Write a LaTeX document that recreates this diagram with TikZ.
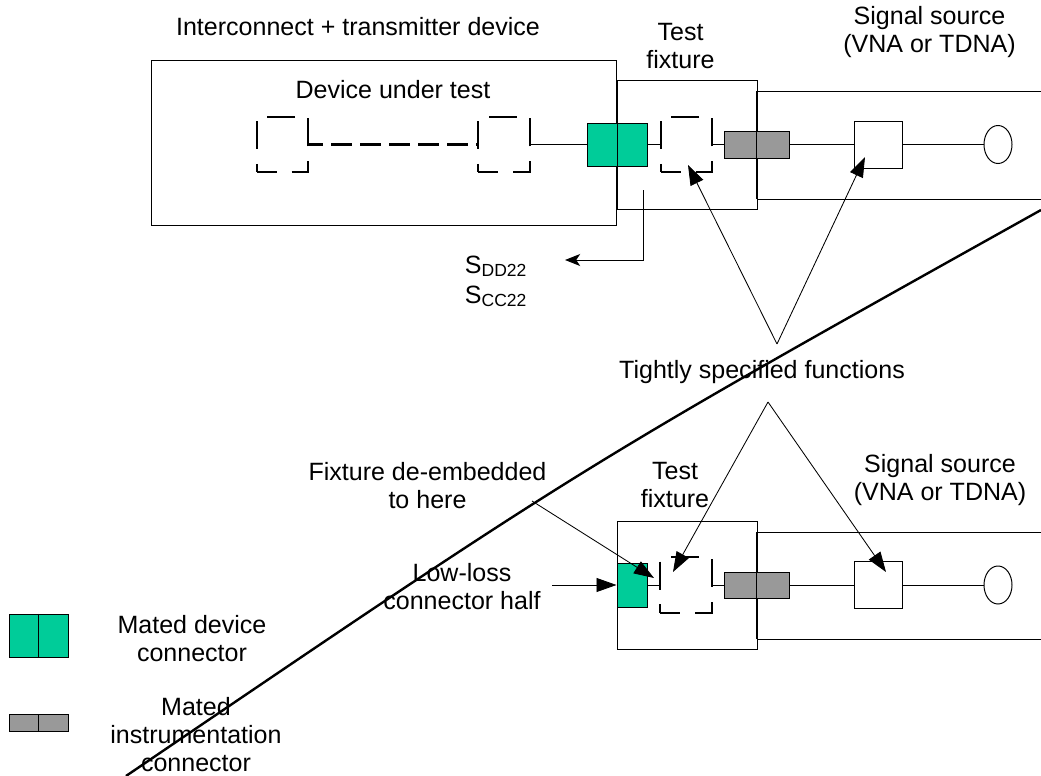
\documentclass[tikz,border=0pt]{standalone}
\usepackage{fontspec}
\setmainfont{Liberation Sans}
\usetikzlibrary{arrows.meta, shapes.geometric}
\definecolor{matedgreen}{RGB}{0, 204, 153}
\definecolor{instrgray}{RGB}{153, 153, 153}

\begin{document}
\begin{tikzpicture}[
    x=0.025cm, y=-0.025cm,
    font=\fontsize{17.8}{19.9}\selectfont,
    frame/.style={draw, line width=0.7pt, inner sep=0pt},
    dashbox/.style={draw, line width=1.6pt, inner sep=0pt,
        minimum width=1.29cm, minimum height=1.39cm,
        dash pattern=on 0.7cm off 0.37cm, dash phase=0.2cm},
    dashlink/.style={line width=1.6pt, dash pattern=on 0.525cm off 0.2cm, dash phase=0.175cm},
    mated/.style={draw, fill=#1, line width=0.7pt, inner sep=0pt,
        path picture={\draw[line width=0.7pt] (path picture bounding box.north) -- (path picture bounding box.south);}},
    half/.style={draw, fill=matedgreen, line width=0.7pt, inner sep=0pt},
    wire/.style={line width=0.7pt},
    fnarrow/.style={line width=0.6pt, -{Triangle[length=0.5cm, width=0.35cm]}},
    sarrow/.style={line width=0.7pt, -{Stealth[length=0.38cm, width=0.3cm, inset=0.1cm]}}
]
    \useasboundingbox (0, 0) rectangle (1041, 776);

    % Coordinates
    \coordinate (srcAnw) at (757, 91);
    \coordinate (srcAsw) at (757, 199);
    \coordinate (srcAne) at (1041, 91);
    \coordinate (srcAse) at (1041, 199);
    \coordinate (srcBnw) at (757, 532);
    \coordinate (srcBsw) at (757, 639);
    \coordinate (srcBne) at (1041, 532);
    \coordinate (srcBse) at (1041, 639);

    \coordinate (funcA)   at (777, 344);
    \coordinate (funcB)   at (768, 402);
    \coordinate (tipC)    at (688, 165);
    \coordinate (tipSA)   at (865, 157);
    \coordinate (tipD)    at (673, 572);
    \coordinate (tipSB)   at (886, 572);
    \coordinate (deemb)   at (532, 501);
    \coordinate (deembT)  at (654, 578);
    \coordinate (lowloss) at (552, 585);
    \coordinate (sparam)  at (643, 190);
    \coordinate (sparamT) at (565, 260);

    \coordinate (diagTop) at (1041, 210);
    \coordinate (diagCtl) at (582.5, 466);
    \coordinate (diagBot) at (126, 776);

    % Upper set-up: device, fixture, source
    \node[frame, minimum width=11.6cm, minimum height=4.1cm] (dut) at (384, 143) {};
    \node[frame, minimum width=3.475cm, minimum height=3.2cm] (fixA) at (687.5, 145) {};
    \draw[wire] (srcAne) -- (srcAnw) -- (srcAsw) -- (srcAse);
    \draw[line width=1.6pt] (srcAnw) -- (srcAsw);

    \node[dashbox] (dashA) at (282.5, 144.5) {};
    \node[dashbox] (dashB) at (504, 144.5) {};
    \node[dashbox] (dashC) at (686.5, 144.5) {};
    \node[frame, minimum width=1.2cm, minimum height=1.175cm] (sbA) at (878, 144.5) {};
    \node[frame, ellipse, minimum width=0.7cm, minimum height=0.95cm] (elA) at (998, 144.5) {};
    \node[mated=matedgreen, minimum width=1.5cm, minimum height=1.075cm] (gA) at (617, 144.5) {};
    \node[mated=instrgray, minimum width=1.625cm, minimum height=0.675cm] (grA) at (756.5, 144.5) {};

    \draw[dashlink] (dashA.east) -- (dashB.west);
    \draw[wire] (dashB.east) -- (gA.west);
    \draw[wire] (gA.east) -- (dashC.west);
    \draw[wire] (dashC.east) -- (grA.west);
    \draw[wire] (grA.east) -- (sbA.west);
    \draw[wire] (sbA.east) -- (elA.west);

    % Lower set-up: fixture, source
    \node[frame, minimum width=3.475cm, minimum height=3.175cm] (fixB) at (687.5, 585.5) {};
    \draw[wire] (srcBne) -- (srcBnw) -- (srcBsw) -- (srcBse);
    \draw[line width=1.6pt] (srcBnw) -- (srcBsw);

    \node[dashbox] (dashD) at (686, 585) {};
    \node[frame, minimum width=1.2cm, minimum height=1.175cm] (sbB) at (878, 585) {};
    \node[frame, ellipse, minimum width=0.7cm, minimum height=0.95cm] (elB) at (998, 585) {};
    \node[half, minimum width=0.75cm, minimum height=1.1cm] (gB) at (632, 585) {};
    \node[mated=instrgray, minimum width=1.625cm, minimum height=0.65cm] (grB) at (756.5, 585) {};

    \draw[wire] (gB.east) -- (dashD.west);
    \draw[wire] (dashD.east) -- (grB.west);
    \draw[wire] (grB.east) -- (sbB.west);
    \draw[wire] (sbB.east) -- (elB.west);

    % Legend
    \node[mated=matedgreen, minimum width=1.475cm, minimum height=1.075cm] (legG) at (38.5, 635.5) {};
    \node[mated=instrgray, minimum width=1.475cm, minimum height=0.425cm] (legY) at (38.5, 722.5) {};

    % Labels
    \node (title) at (358, 27) {Interconnect + transmitter device};
    \node (dutlabel) at (393, 90) {Device under test};
    \node[align=center] (fixAlabel) at (680.5, 46) {Test\\fixture};
    \node[align=center] (srcAlabel) at (929.5, 32.5) {Signal source\\(VNA or TDNA)};
    \node[anchor=base west] (sdd) at (460, 273) {S\textsubscript{DD22}};
    \node[anchor=base west] (scc) at (460, 303) {S\textsubscript{CC22}};
    \node (func) at (762, 372) {Tightly specified functions};
    \node[align=center] (deemblabel) at (427.5, 486) {Fixture de-embedded\\to here};
    \node[align=center] (fixBlabel) at (675, 485) {Test\\fixture};
    \node[align=center] (srcBlabel) at (940, 480.5) {Signal source\\(VNA or TDNA)};
    \node[align=center] (lowlabel) at (462, 587) {Low-loss\\connector half};
    \node[align=center] (legGlabel) at (192, 639) {Mated device\\connector};
    \node[align=center] (legYlabel) at (196, 735) {Mated\\instrumentation\\connector};

    % Arrows
    \draw[sarrow] (sparam) |- (sparamT);
    \draw[fnarrow] (funcA) -- (tipC);
    \draw[fnarrow] (funcA) -- (tipSA);
    \draw[fnarrow] (funcB) -- (tipD);
    \draw[fnarrow] (funcB) -- (tipSB);
    \draw[fnarrow] (deemb) -- (deembT);
    \draw[fnarrow] (lowloss) -- (lowloss -| gB.west);

    % Dividing line
    \draw[line width=1.7pt] (diagTop) .. controls (diagCtl) .. (diagBot);

\end{tikzpicture}
\end{document}
